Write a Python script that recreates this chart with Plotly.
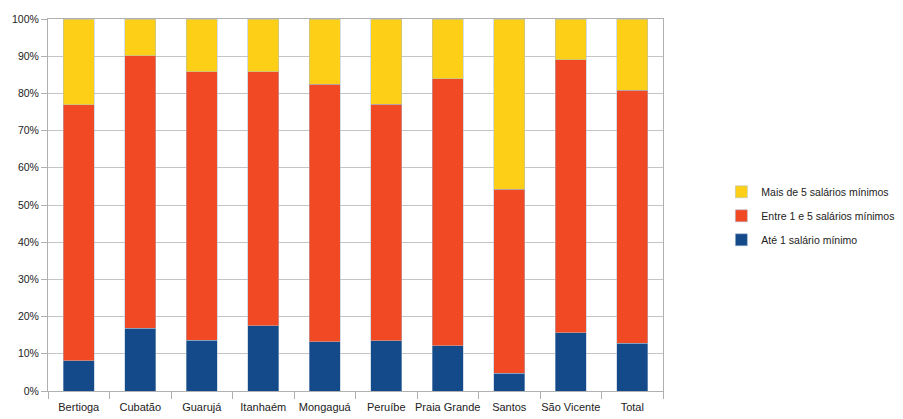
import plotly.graph_objects as go

categories = ["Bertioga", "Cubatão", "Guarujá", "Itanhaém", "Mongaguá", "Peruíbe",
              "Praia Grande", "Santos", "São Vicente", "Total"]
ate_1 = [8.1, 16.9, 13.7, 17.5, 13.2, 13.5, 12.1, 4.8, 15.6, 12.9]
entre_1_5 = [68.8, 73.2, 72.1, 68.3, 69.3, 63.6, 71.8, 49.5, 73.4, 68.0]
mais_5 = [23.1, 9.9, 14.2, 14.2, 17.5, 22.9, 16.1, 45.7, 11.0, 19.1]
series_names = ["Até 1 salário mínimo", "Entre 1 e 5 salários mínimos", "Mais de 5 salários mínimos"]
colors = ["#154A8A", "#F04923", "#FDD017"]
legend_ranks = [3, 2, 1]
y_ticks = [0, 10, 20, 30, 40, 50, 60, 70, 80, 90, 100]
y_tick_labels = [f"{v}%" for v in y_ticks]

font_family = "Liberation Sans, Arial, sans-serif"

fig = go.Figure()
for i, (name, vals, col) in enumerate(zip(series_names, [ate_1, entre_1_5, mais_5], colors)):
    fig.add_trace(go.Bar(
        x=categories, y=vals, name=name, legendgroup=f"g{i}", legendrank=legend_ranks[i],
        marker=dict(color=col, line=dict(color="#a9bdd2", width=0.5)),
    ))

fig.update_layout(
    barmode="stack",
    bargap=0.5,
    width=903, height=419,
    margin=dict(l=40, r=248, t=11, b=36, autoexpand=False),
    paper_bgcolor="white", plot_bgcolor="white",
    font=dict(family=font_family, size=11, color="#222222"),
    legend=dict(
        traceorder="grouped",
        xref="container", yref="container",
        x=0.79, y=0.504, xanchor="left", yanchor="middle",
        font=dict(size=10.5, color="#222222"),
        tracegroupgap=5,
    ),
    xaxis=dict(
        showgrid=False, showline=True, linecolor="#b0b0b0", linewidth=1,
        mirror=True, automargin=False, tickangle=0,
        ticks="outside", tickson="boundaries", ticklen=7, tickcolor="#b0b0b0",
        ticklabelstandoff=6,
        tickfont=dict(size=11, color="#222222"),
    ),
    yaxis=dict(
        range=[0, 100], tickvals=y_ticks, ticktext=y_tick_labels,
        showgrid=True, gridcolor="#c4c4c4", gridwidth=1,
        showline=True, linecolor="#b0b0b0", linewidth=1, mirror=True,
        automargin=False,
        ticks="outside", ticklen=6, tickcolor="#b0b0b0",
        tickfont=dict(size=10.5, color="#222222"),
        zeroline=False,
    ),
)

fig.write_html("out.html")
